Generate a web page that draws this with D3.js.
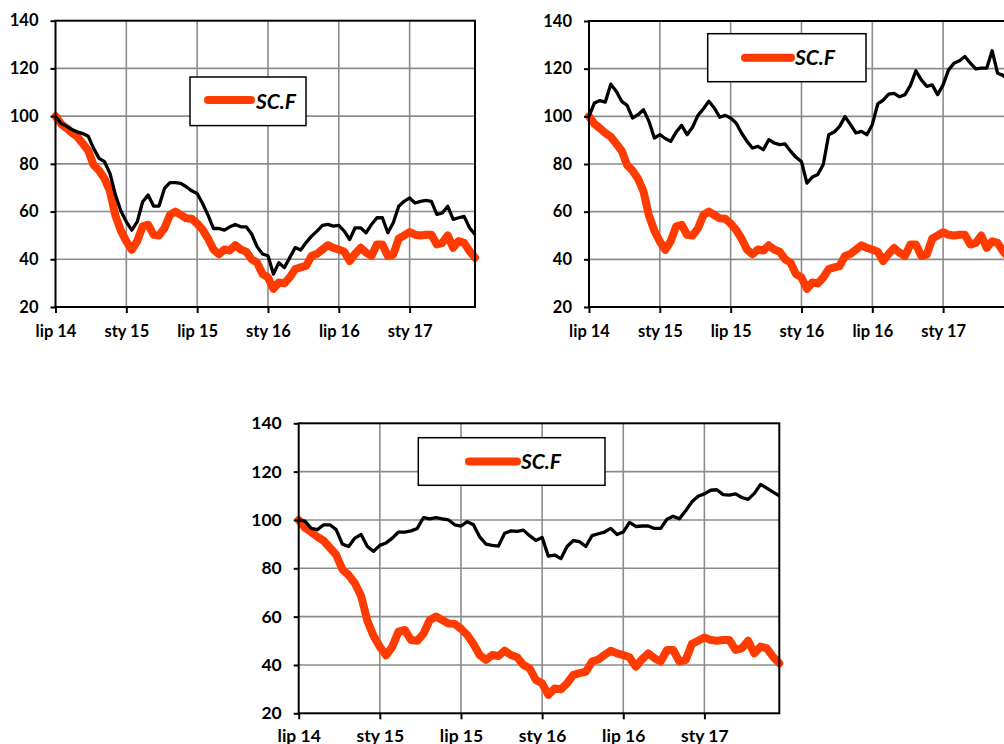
<!DOCTYPE html>
<html>
<head>
<meta charset="utf-8">
<script src="https://cdn.jsdelivr.net/npm/d3@7"></script>
<style>
  html, body { margin: 0; padding: 0; background: #fff; overflow: hidden; }
  svg { display: block; font-family: Lato, "Open Sans", sans-serif; }
</style>
</head>
<body>
<svg id="chart"></svg>
<script>
// bi-weekly observations, lip 14 .. cze 17 (index 0..77)
const tickLabels = ["lip 14", "sty 15", "lip 15", "sty 16", "lip 16", "sty 17"];
const tickIndex = [0, 13, 26, 39, 52, 65];
const yTicks = [20, 40, 60, 80, 100, 120, 140];
const legendName = "SC.F";

const scF = [
  100, 96.8, 95, 93, 91.4, 88.5, 85.6, 79.5, 77.2, 73.8, 68.5, 58.3, 52, 47.5,
  44, 47.6, 53.8, 54.5, 50.3, 50, 53, 58.6, 60, 58.6, 57.2, 57, 55,
  52.4, 48.7, 44.1, 42.1, 44.1, 43.7, 45.9, 44.1, 43.2, 40, 38.6, 33.8, 32.4,
  27.6, 30.3, 29.9, 32.4, 35.9, 36.6, 37.2, 41.4, 42.3, 44.1, 45.9, 44.8, 44.1,
  43.2, 39.3, 42.3, 44.8, 42.8, 41.4, 46.2, 46.2, 41.4, 42, 48.7, 50, 51.4,
  50.3, 50, 50.3, 50.3, 46.2, 46.9, 50, 44.8, 47.6, 46.9, 43.4, 40.7
];

// black comparison series, one per panel
const benchA = [
  100, 97, 95.8, 94.4, 93.4, 92.7, 91.6, 86.5, 82.3, 80.9, 76, 67, 60.2, 55.7,
  52.2, 55.7, 64.1, 66.9, 62.3, 62.3, 69.7, 72.1, 72.1, 71.8, 70.4, 68.7, 67.6,
  63.4, 58.5, 52.9, 52.9, 52.2, 53.6, 54.6, 53.6, 53.6, 50.6, 45.3, 42.2, 41.5,
  33.8, 38.6, 36.5, 40.7, 44.9, 43.9, 47, 49.7, 51.8, 54.2, 54.6, 53.9, 54.2,
  51.8, 48.3, 53.2, 53.2, 51.1, 54.6, 57.4, 57.4, 51.1, 55.3, 62.2, 64.3, 65.7,
  63.6, 64.3, 64.7, 64.3, 58.8, 59.4, 62.2, 56.7, 57.4, 58, 53.2, 50.4
];
const benchB = [
  100, 105.6, 106.6, 106, 113.5, 110.5, 106.3, 104.6, 99.3, 100.7, 102.8, 97.9, 90.9, 92.3,
  90.7, 89.5, 93.4, 96.2, 92.3, 95.4, 100.4, 103.2, 106.3, 103.5, 99.6, 100.4, 99.3,
  97.2, 93, 89.5, 86.7, 87.4, 86, 90.2, 88.8, 88.1, 88.4, 85.4, 82.8, 81,
  72, 74.5, 75.6, 79.8, 92.3, 93.4, 95.8, 99.9, 96.5, 93, 93.7, 92.3, 96.5,
  105.2, 106.8, 109.3, 109.6, 108.2, 109.1, 113, 119.1, 115.3, 112.6, 113.2, 109.1, 113.2,
  119.5, 122.3, 123.3, 125.1, 122.3, 119.9, 120.2, 120.2, 127.5, 118.1, 117.2, 114.9
];
const benchC = [
  100, 99.5, 96.5, 96, 98, 98, 96, 90, 89, 92.5, 94, 89, 87, 89.5,
  90.5, 92.5, 95, 95, 95.5, 96.5, 101, 100.5, 101, 100.5, 100, 98, 97.5,
  99.3, 98, 93, 90, 89.5, 89.2, 94.5, 95.5, 95.3, 95.8, 93.5, 91.5, 92.8,
  85, 85.5, 84, 89, 91.5, 91, 89, 93.5, 94.3, 95, 96.5, 94, 95,
  99, 97.3, 97.5, 97.5, 96.5, 96.5, 100.3, 101.5, 100.5, 103.8, 107.5, 109.8, 110.8,
  112.3, 112.5, 110.5, 110.3, 110.8, 109.3, 108.5, 111, 114.7, 113.2, 111.5, 110
];

const width = 1004;
const height = 744;
const orange = "#ff3b00";
const gridColor = "#8c8c8c";

const svg = d3.select("#chart").attr("width", width).attr("height", height);
svg.append("rect").attr("width", width).attr("height", height).attr("fill", "#fff");

const panels = [
  { bench: benchA, left: 55.5, right: 475, top: 20.7, bottom: 307, font: 16.5, xLabelDy: 30,
    legend: { x: 190, y: 77, w: 116, h: 48.6, l1: 208, l2: 251, ly: 100, tx: 256, ty: 108.5 } },
  { bench: benchB, left: 589, right: 1008.5, top: 21, bottom: 307, font: 16.5, xLabelDy: 30,
    legend: { x: 707.7, y: 33.7, w: 158.3, h: 48, l1: 745, l2: 791, ly: 57.7, tx: 795, ty: 64.5 } },
  { bench: benchC, left: 298.7, right: 779.3, top: 423.3, bottom: 713.3, font: 17.5, xLabelDy: 28.5,
    legend: { x: 418.3, y: 437.7, w: 186.7, h: 47.6, l1: 469, l2: 517, ly: 461.5, tx: 521, ty: 468.5 } }
];

panels.forEach((p) => {
  const g = svg.append("g");

  const x = d3.scaleLinear().domain([0, scF.length - 1]).range([p.left, p.right]);
  const y = d3.scaleLinear().domain([20, 140]).range([p.bottom, p.top]);

  // grid
  g.append("g")
    .selectAll("line")
    .data(yTicks.slice(1, -1))
    .join("line")
    .attr("x1", p.left)
    .attr("x2", p.right)
    .attr("y1", (d) => y(d))
    .attr("y2", (d) => y(d))
    .attr("stroke", gridColor)
    .attr("stroke-width", 1.6);

  g.append("g")
    .selectAll("line")
    .data(tickIndex.slice(1))
    .join("line")
    .attr("x1", (d) => x(d))
    .attr("x2", (d) => x(d))
    .attr("y1", p.top)
    .attr("y2", p.bottom)
    .attr("stroke", gridColor)
    .attr("stroke-width", 1.6);

  const line = d3
    .line()
    .x((d, i) => x(i))
    .y((d) => y(d));

  g.append("path")
    .datum(scF)
    .attr("d", line)
    .attr("fill", "none")
    .attr("stroke", orange)
    .attr("stroke-width", 8)
    .attr("stroke-linejoin", "round")
    .attr("stroke-linecap", "round");

  g.append("path")
    .datum(p.bench)
    .attr("d", line)
    .attr("fill", "none")
    .attr("stroke", "#000")
    .attr("stroke-width", 3.3)
    .attr("stroke-linejoin", "round");

  // axes
  const yAxis = g
    .append("g")
    .attr("transform", `translate(${p.left},0)`)
    .call(d3.axisLeft(y).tickValues(yTicks).tickSize(5).tickPadding(12).tickSizeOuter(0));

  const xAxis = g
    .append("g")
    .attr("transform", `translate(0,${p.bottom})`)
    .call(
      d3.axisBottom(x)
        .tickValues(tickIndex)
        .tickFormat((d, i) => tickLabels[i])
        .tickSize(6)
        .tickSizeOuter(0)
    );

  [yAxis, xAxis].forEach((a) => {
    a.attr("font-family", null).attr("font-size", null);
    a.select(".domain").remove();
    a.selectAll("line").attr("stroke", "#000").attr("stroke-width", 2);
    a.selectAll("text")
      .attr("fill", "#000")
      .attr("font-size", p.font)
      .attr("font-weight", "bold");
  });
  xAxis.selectAll("text").attr("dy", null).attr("y", p.xLabelDy);

  // plot frame
  g.append("rect")
    .attr("x", p.left)
    .attr("y", p.top)
    .attr("width", p.right - p.left)
    .attr("height", p.bottom - p.top)
    .attr("fill", "none")
    .attr("stroke", "#000")
    .attr("stroke-width", 2);

  // legend
  const L = p.legend;
  const lg = g.append("g");
  lg.append("rect")
    .attr("x", L.x)
    .attr("y", L.y)
    .attr("width", L.w)
    .attr("height", L.h)
    .attr("fill", "#fff")
    .attr("stroke", "#000")
    .attr("stroke-width", 1.5);
  lg.append("line")
    .attr("x1", L.l1)
    .attr("x2", L.l2)
    .attr("y1", L.ly)
    .attr("y2", L.ly)
    .attr("stroke", orange)
    .attr("stroke-width", 8)
    .attr("stroke-linecap", "round");
  lg.append("text")
    .attr("x", L.tx)
    .attr("y", L.ty)
    .attr("font-size", 21)
    .attr("font-weight", "bold")
    .attr("font-style", "italic")
    .attr("fill", "#000")
    .text(legendName);
});
</script>
</body>
</html>
